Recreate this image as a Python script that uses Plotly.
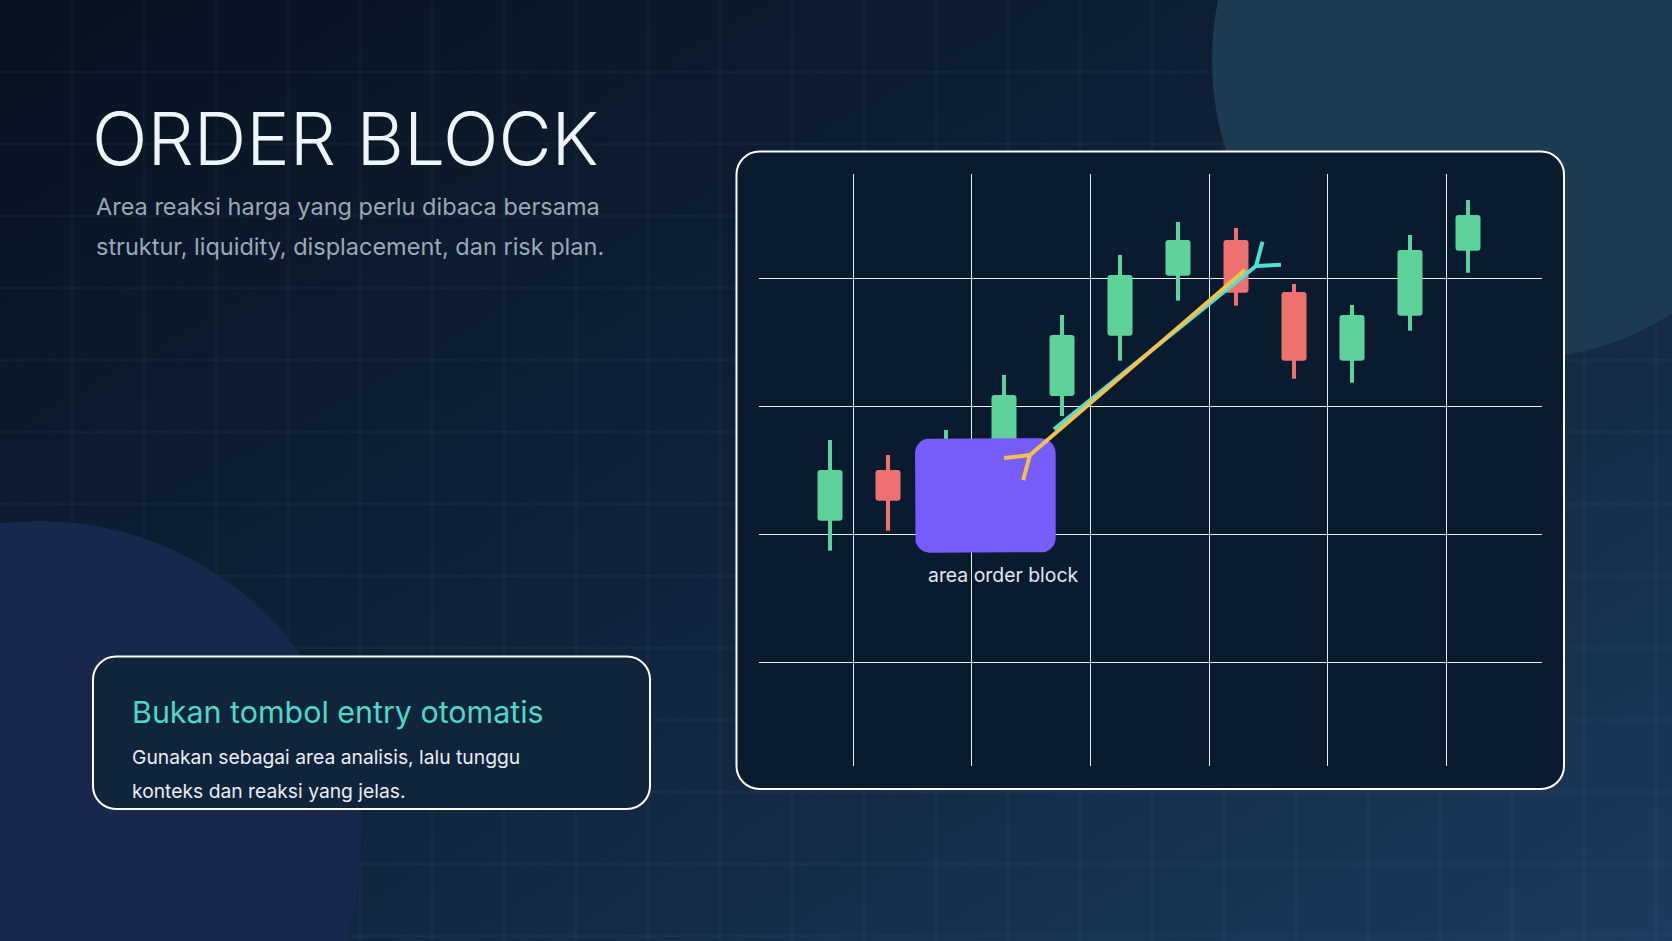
import base64
import math
import plotly.graph_objects as go

# ---------------- data ----------------
candle_idx = [0, 1, 2, 3, 4, 5, 6, 7, 8, 9, 10, 11]
open_p = [111.04, 115.00, 112.00, 116.00, 120.78, 125.49, 130.18, 132.97, 128.91, 123.54, 127.05, 132.13]
close_p = [115.00, 112.60, 116.50, 120.86, 125.55, 130.23, 132.97, 128.85, 123.54, 127.11, 132.19, 134.92]
high_p = [117.34, 116.17, 118.13, 122.42, 127.11, 131.80, 134.38, 133.91, 129.53, 127.89, 133.36, 136.09]
low_p = [108.70, 110.26, 110.50, 114.50, 119.22, 123.54, 128.23, 127.84, 122.13, 121.82, 125.88, 130.41]

# order block zone (x in candle index units, y in price)
ob_x = [1.466, 3.891]
ob_price = [108.54, 117.48]
ob_label = "area order block"

# arrows: [tail, head] in (index, price)
arrow_cyan_x = [3.862, 7.345]
arrow_cyan_y = [118.18, 130.94]
arrow_gold_x = [7.155, 3.448]
arrow_gold_y = [130.625, 116.17]

title = "ORDER BLOCK"
subtitle_lines = ["Area reaksi harga yang perlu dibaca bersama",
                  "struktur, liquidity, displacement, dan risk plan."]
card_title = "Bukan tombol entry otomatis"
card_lines = ["Gunakan sebagai area analisis, lalu tunggu",
              "konteks dan reaksi yang jelas."]

# ---------------- styling / layout ----------------
W, H = 1672, 941
GREEN = "#5dd39b"
RED = "#ef716f"
FONT = "Inter"

x_dom = [759 / W, 1542 / W]
y_dom = [1 - 766 / H, 1 - 174 / H]
x_rng = [-1.2241, 12.2759]
y_rng = [91.875, 138.125]
PX_X = (x_dom[1] - x_dom[0]) * W / (x_rng[1] - x_rng[0])
PX_Y = (y_dom[1] - y_dom[0]) * H / (y_rng[1] - y_rng[0])


def P(x, y):
    return f"{x / W:.6f},{1 - y / H:.6f}"


def rr_path(x0, y0, x1, y1, r):
    k = 0.5523 * r
    return (f"M{P(x0 + r, y0)} L{P(x1 - r, y0)} C{P(x1 - r + k, y0)} {P(x1, y0 + r - k)} {P(x1, y0 + r)} "
            f"L{P(x1, y1 - r)} C{P(x1, y1 - r + k)} {P(x1 - r + k, y1)} {P(x1 - r, y1)} "
            f"L{P(x0 + r, y1)} C{P(x0 + r - k, y1)} {P(x0, y1 - r + k)} {P(x0, y1 - r)} "
            f"L{P(x0, y0 + r)} C{P(x0, y0 + r - k)} {P(x0 + r - k, y0)} {P(x0 + r, y0)} Z")


shapes = []
grid_c = "rgba(160,180,210,0.085)"
for i in range(1, 24):
    shapes.append(dict(type="line", xref="paper", yref="paper", x0=72 * i / W, x1=72 * i / W,
                       y0=0, y1=1, line=dict(color=grid_c, width=1), layer="below"))
for j in range(1, 14):
    shapes.append(dict(type="line", xref="paper", yref="paper", x0=0, x1=1,
                       y0=1 - 72 * j / H, y1=1 - 72 * j / H, line=dict(color=grid_c, width=1), layer="below"))

# decorative circles
shapes.append(dict(type="circle", xref="paper", yref="paper",
                   x0=(1512 - 300) / W, x1=(1512 + 300) / W, y0=1 - (60 + 300) / H, y1=1 - (60 - 300) / H,
                   fillcolor="#1b3c53", line=dict(width=0), layer="below"))
shapes.append(dict(type="circle", xref="paper", yref="paper",
                   x0=(40 - 321) / W, x1=(40 + 321) / W, y0=1 - (842 + 321) / H, y1=1 - (842 - 321) / H,
                   fillcolor="#18274b", line=dict(width=0), layer="below"))
# cards
shapes.append(dict(type="path", xref="paper", yref="paper", path=rr_path(736.5, 151.5, 1564, 789, 23),
                   fillcolor="#0a1b2f", line=dict(color="#ffffff", width=2), layer="below"))
shapes.append(dict(type="path", xref="paper", yref="paper", path=rr_path(93, 656.5, 650, 809, 23),
                   fillcolor="#10243b", line=dict(color="#ffffff", width=2), layer="below"))

# background gradient as an inline svg image
svg = ('<svg xmlns="http://www.w3.org/2000/svg" width="1672" height="941" viewBox="0 0 1672 941" '
       'preserveAspectRatio="none"><defs><linearGradient id="g" x1="0" y1="0" x2="1" y2="1">'
       '<stop offset="0" stop-color="#07121f"/><stop offset="0.5" stop-color="#10223a"/>'
       '<stop offset="1" stop-color="#1d3b5e"/></linearGradient></defs>'
       '<rect width="1672" height="941" fill="url(#g)"/></svg>')
bg_src = "data:image/svg+xml;base64," + base64.b64encode(svg.encode()).decode()

fig = go.Figure()

colors = [GREEN if c >= o else RED for o, c in zip(open_p, close_p)]
fig.add_trace(go.Bar(x=candle_idx, base=low_p, y=[h - l for h, l in zip(high_p, low_p)],
                     width=4 / PX_X, marker=dict(color=colors, line=dict(width=0)),
                     hoverinfo="skip", showlegend=False))
fig.add_trace(go.Bar(x=candle_idx, base=[min(o, c) for o, c in zip(open_p, close_p)],
                     y=[abs(c - o) for o, c in zip(open_p, close_p)],
                     width=25 / PX_X, marker=dict(color=colors, line=dict(width=0), cornerradius=3),
                     hoverinfo="skip", showlegend=False))

# order block zone: rounded rectangle polygon in data space
r_px = 15
rx, ry = r_px / PX_X, r_px / PX_Y
bx, by = [], []
corners = [(ob_x[1] - rx, ob_price[1] - ry, 0), (ob_x[0] + rx, ob_price[1] - ry, 90),
           (ob_x[0] + rx, ob_price[0] + ry, 180), (ob_x[1] - rx, ob_price[0] + ry, 270)]
for cx, cy, a0 in corners:
    for k in range(0, 13):
        a = math.radians(a0 + 90 * k / 12)
        bx.append(cx + rx * math.cos(a))
        by.append(cy + ry * math.sin(a))
bx.append(bx[0]); by.append(by[0])
fig.add_trace(go.Scatter(x=bx, y=by, fill="toself", fillcolor="#775cfc", mode="lines",
                         line=dict(width=0, color="#775cfc"), hoverinfo="skip", showlegend=False))


def fork_arrow(xs, ys, color, length=26, ang=34):
    tx, ty, hx, hy = xs[0], ys[0], xs[1], ys[1]
    dx, dy = (hx - tx) * PX_X, -(hy - ty) * PX_Y
    n = math.hypot(dx, dy)
    dx, dy = dx / n, dy / n
    pts_x, pts_y = [tx, hx], [ty, hy]
    for s in (1, -1):
        a = math.radians(ang * s)
        ex = dx * math.cos(a) - dy * math.sin(a)
        ey = dx * math.sin(a) + dy * math.cos(a)
        pts_x += [None, hx, hx + ex * length / PX_X]
        pts_y += [None, hy, hy - ey * length / PX_Y]
    return go.Scatter(x=pts_x, y=pts_y, mode="lines", line=dict(color=color, width=4),
                      hoverinfo="skip", showlegend=False, connectgaps=False)


fig.add_trace(fork_arrow(arrow_cyan_x, arrow_cyan_y, "#4fe0d2", 25, 36))
fig.add_trace(fork_arrow(arrow_gold_x, arrow_gold_y, "#f2c14f", 26, 34))


def ann(text, x_px, baseline_px, size, color, weight=400):
    top = baseline_px - 0.969 * size
    return dict(text=text, xref="paper", yref="paper", x=x_px / W, y=1 - top / H,
                xanchor="left", yanchor="top", showarrow=False, borderpad=0,
                font=dict(family=FONT, size=size, color=color, weight=weight))


annotations = [
    ann(title, 91, 164, 73, "#eef6fb", 300),
    ann(subtitle_lines[0], 95, 214, 23.5, "#9aa9b9"),
    ann(subtitle_lines[1], 95, 254, 23.5, "#9aa9b9"),
    ann(card_title, 131, 722, 30.4, "#4ed8c8"),
    ann(card_lines[0], 131, 763, 19.3, "#e8eef4"),
    ann(card_lines[1], 131, 797, 19.3, "#e8eef4"),
    ann(ob_label, 927, 581, 19.4, "#e2e8f0"),
]

fig.update_layout(
    width=W, height=H, autosize=False,
    margin=dict(l=0, r=0, t=0, b=0, pad=0),
    paper_bgcolor="#0f2035", plot_bgcolor="rgba(0,0,0,0)",
    barmode="overlay", showlegend=False,
    shapes=shapes, annotations=annotations,
    images=[dict(source=bg_src, xref="paper", yref="paper", x=0, y=1, sizex=1, sizey=1,
                 xanchor="left", yanchor="top", sizing="stretch", layer="below")],
    xaxis=dict(domain=x_dom, range=x_rng, showgrid=True, gridcolor="rgba(255,255,255,0.92)", gridwidth=1,
               tick0=0.4017, dtick=2.0448, showticklabels=False, zeroline=False, showline=False,
               ticks="", fixedrange=True),
    yaxis=dict(domain=y_dom, range=y_rng, showgrid=True, gridcolor="rgba(255,255,255,0.92)", gridwidth=1,
               tick0=100, dtick=10, showticklabels=False, zeroline=False, showline=False,
               ticks="", fixedrange=True),
    hovermode=False,
)

fig.write_html("out.html", config={"displayModeBar": False})
